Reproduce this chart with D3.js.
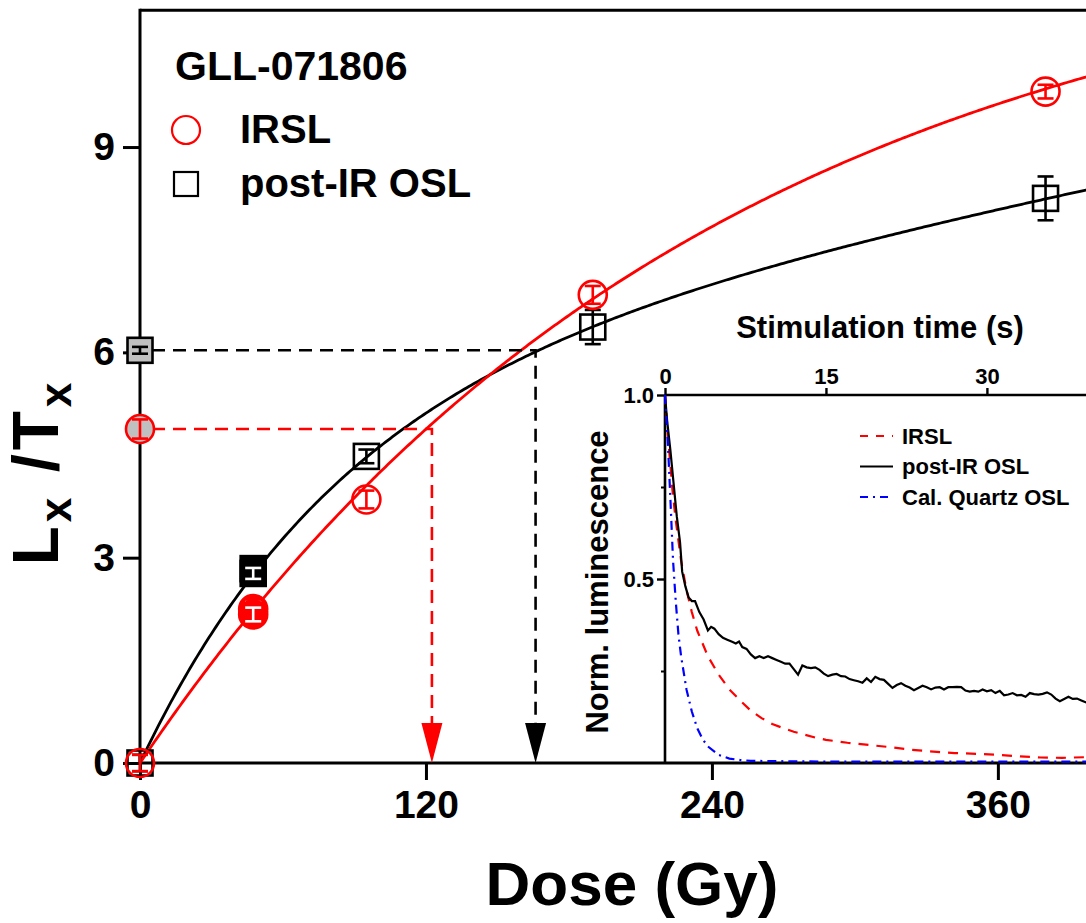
<!DOCTYPE html>
<html>
<head>
<meta charset="utf-8">
<script src="https://cdn.jsdelivr.net/npm/d3@7"></script>
<style>
  body { margin: 0; background: #fff; }
  text { font-family: "Liberation Sans", Arial, Helvetica, sans-serif; font-weight: bold; }
</style>
</head>
<body>
<script>
// dose response curves (main) + decay curves (inset)

var width = 1086, height = 923;

// main chart data
var irslDose = [0, 47.5, 47.5, 95, 190, 380];
var irslLxTx = [0, 2.25, 2.17, 3.85, 6.84, 9.81];
var irslErr  = [0.12, 0.1, 0.1, 0.13, 0.13, 0.1];
var irslFilled = [false, true, true, false, false, false];
var irslNatural = 4.88, irslNaturalErr = 0.14;
var irslDe = 122.5;
var irslFit = [12.39, 239.8];          // a, D0  : a(1-exp(-D/D0))

var oslDose = [0, 47.5, 47.5, 95, 190, 380];
var oslLxTx = [0, 2.84, 2.77, 4.48, 6.37, 8.25];
var oslErr  = [0.12, 0.08, 0.08, 0.1, 0.25, 0.32];
var oslFilled = [false, true, true, false, false, false];
var oslNatural = 6.03;
var oslDe = 166;
var oslFit = [5.65, 85, 0.00699];      // a, D0, b : a(1-exp(-D/D0)) + bD

var yTicks = [0, 3, 6, 9];
var xTicks = [0, 120, 240, 360];

// inset data
var irslTime = [0, 0.3, 0.7, 1, 1.5, 2, 2.5, 3, 4, 5, 6, 7, 8, 9, 10, 11, 12, 13, 14, 15, 17, 19, 21, 23, 25, 27, 29, 31, 33, 35, 37, 39.5];
var irslNorm = [1, 0.88, 0.74, 0.66, 0.55, 0.47, 0.41, 0.36, 0.29, 0.24, 0.2, 0.17, 0.142, 0.122, 0.106, 0.095, 0.085, 0.077, 0.069, 0.063, 0.055, 0.049, 0.043, 0.036, 0.031, 0.027, 0.025, 0.022, 0.018, 0.015, 0.014, 0.016];

var quartzTime = [0, 0.25, 0.5, 0.75, 1, 1.25, 1.5, 2, 2.5, 3, 3.5, 4, 5, 6, 7, 8, 10, 15, 20, 30, 40];
var quartzNorm = [1, 0.88, 0.72, 0.55, 0.44, 0.35, 0.29, 0.2, 0.14, 0.095, 0.065, 0.045, 0.022, 0.012, 0.008, 0.006, 0.005, 0.004, 0.004, 0.004, 0.004];

var postIrTime = [0, 0.2, 0.5, 0.8, 1.1, 1.4, 1.6, 1.9, 2.2, 2.5, 2.8, 3.2, 3.6, 4.0, 4.3, 4.6, 5.0, 5.4, 5.8, 6.2, 6.6, 6.9, 7.2, 7.6, 8.0, 8.4, 8.8, 9.2, 9.6, 10.0, 10.4, 10.8, 11.2, 11.6, 12.0, 12.4, 12.8, 13.2, 13.6, 14.0, 14.4, 14.8, 15.2, 15.6, 16.0, 16.4, 16.8, 17.2, 17.6, 18.0, 18.4, 18.8, 19.2, 19.6, 20.0, 20.4, 20.8, 21.2, 21.6, 22.0, 22.4, 22.8, 23.2, 23.6, 24.0, 24.4, 24.8, 25.2, 25.6, 26.0, 26.4, 26.8, 27.2, 27.6, 28.0, 28.4, 28.8, 29.2, 29.6, 30.0, 30.4, 30.8, 31.2, 31.6, 32.0, 32.4, 32.8, 33.2, 33.6, 34.0, 34.4, 34.8, 35.2, 35.6, 36.0, 36.4, 36.8, 37.2, 37.6, 38.0, 38.4, 38.8, 39.2, 39.6];
var postIrNorm = [1, 0.93, 0.85, 0.76, 0.67, 0.6, 0.52, 0.48, 0.45, 0.44, 0.44, 0.41, 0.39, 0.36, 0.37, 0.365, 0.35, 0.34, 0.335, 0.33, 0.325, 0.33, 0.315, 0.31, 0.295, 0.285, 0.29, 0.285, 0.29, 0.285, 0.28, 0.275, 0.27, 0.27, 0.255, 0.24, 0.265, 0.26, 0.258, 0.26, 0.253, 0.243, 0.236, 0.24, 0.242, 0.236, 0.235, 0.228, 0.225, 0.222, 0.218, 0.23, 0.22, 0.234, 0.228, 0.226, 0.215, 0.204, 0.212, 0.217, 0.21, 0.205, 0.198, 0.204, 0.21, 0.206, 0.2, 0.205, 0.206, 0.2, 0.206, 0.206, 0.207, 0.206, 0.197, 0.194, 0.196, 0.194, 0.2, 0.195, 0.198, 0.19, 0.196, 0.184, 0.186, 0.19, 0.184, 0.185, 0.18, 0.19, 0.187, 0.186, 0.188, 0.192, 0.186, 0.175, 0.168, 0.174, 0.18, 0.174, 0.175, 0.17, 0.165, 0.163];

var insetXTicks = [0, 15, 30];
var insetYMajor = [0.5, 1.0];
var insetYMinor = [0.25, 0.75];
var insetLegend = ["IRSL", "post-IR OSL", "Cal. Quartz OSL"];

var svg = d3.select("body").append("svg")
    .attr("width", width)
    .attr("height", height);

var x = d3.scaleLinear().domain([0, 400]).range([140, 140 + 400 * 2.383]);
var y = d3.scaleLinear().domain([0, 11]).range([763, 763 - 11 * 68.44]);

// frame
svg.append("line").attr("x1", x(0)).attr("x2", x(400)).attr("y1", y(11)).attr("y2", y(11))
   .attr("stroke", "#000").attr("stroke-width", 3);

var yAxis = svg.append("g")
    .attr("transform", "translate(" + x(0) + ",0)")
    .call(d3.axisLeft(y).tickValues(yTicks).tickSize(17).tickPadding(8).tickFormat(d3.format("d")));
var xAxis = svg.append("g")
    .attr("transform", "translate(0," + y(0) + ")")
    .call(d3.axisBottom(x).tickValues(xTicks).tickSize(17).tickPadding(10).tickFormat(d3.format("d")));
[yAxis, xAxis].forEach(function(a) {
  a.select(".domain").remove();
  a.selectAll(".tick line").attr("stroke-width", 3);
  a.selectAll(".tick text").attr("font-size", 39).attr("font-weight", "bold")
   .style("font-family", "'Liberation Sans', Arial, sans-serif");
});
svg.append("line").attr("x1", x(0)).attr("x2", x(0)).attr("y1", y(11) - 1.5).attr("y2", y(0) + 1.5)
   .attr("stroke", "#000").attr("stroke-width", 3);
svg.append("line").attr("x1", x(0)).attr("x2", x(400)).attr("y1", y(0)).attr("y2", y(0))
   .attr("stroke", "#000").attr("stroke-width", 3);

// axis titles
var ylab = svg.append("text")
    .attr("transform", "translate(58,472) rotate(-90)")
    .attr("text-anchor", "middle")
    .attr("font-size", 64)
    .attr("letter-spacing", 4);
ylab.append("tspan").text("L");
ylab.append("tspan").attr("font-size", 44).attr("dy", 13).text("x");
ylab.append("tspan").attr("dy", -13).text(" /T");
ylab.append("tspan").attr("font-size", 44).attr("dy", 13).text("x");

svg.append("text")
    .attr("x", 632).attr("y", 905)
    .attr("text-anchor", "middle")
    .attr("font-size", 62)
    .text("Dose (Gy)");

// fitted curves
var doses = d3.range(0, 400.5, 1);
function irslCurve(d) { return irslFit[0] * (1 - Math.exp(-d / irslFit[1])); }
function oslCurve(d) { return oslFit[0] * (1 - Math.exp(-d / oslFit[1])) + oslFit[2] * d; }

var fitLine = d3.line().x(function(d) { return x(d[0]); }).y(function(d) { return y(d[1]); });
svg.append("path")
    .attr("d", fitLine(doses.map(function(d) { return [d, oslCurve(d)]; })))
    .attr("fill", "none").attr("stroke", "#000").attr("stroke-width", 2.8);
svg.append("path")
    .attr("d", fitLine(doses.map(function(d) { return [d, irslCurve(d)]; })))
    .attr("fill", "none").attr("stroke", "red").attr("stroke-width", 2.8);

// De projections
function projection(natural, de, color) {
  svg.append("path")
     .attr("d", "M" + (x(0) + 12) + "," + y(natural) + "H" + x(de) + "V" + (y(0) - 40))
     .attr("fill", "none").attr("stroke", color).attr("stroke-width", 2.6)
     .attr("stroke-dasharray", "13,8");
  svg.append("path")
     .attr("d", "M" + (x(de) - 10.5) + "," + (y(0) - 40) + "L" + (x(de) + 10.5) + "," + (y(0) - 40) +
                "L" + x(de) + "," + y(0) + "Z")
     .attr("fill", color);
}
projection(oslNatural, oslDe, "#000");
projection(irslNatural, irslDe, "red");

// error bars + markers
function errBar(cx, val, err, color) {
  var g = svg.append("g").attr("stroke", color).attr("stroke-width", 2.6);
  g.append("line").attr("x1", cx).attr("x2", cx).attr("y1", y(val - err)).attr("y2", y(val + err));
  g.append("line").attr("x1", cx - 8).attr("x2", cx + 8).attr("y1", y(val - err)).attr("y2", y(val - err));
  g.append("line").attr("x1", cx - 8).attr("x2", cx + 8).attr("y1", y(val + err)).attr("y2", y(val + err));
}

oslDose.forEach(function(d, i) {
  svg.append("rect")
     .attr("x", x(d) - 12.5).attr("y", y(oslLxTx[i]) - 12.5)
     .attr("width", 25).attr("height", 25)
     .attr("fill", oslFilled[i] ? "#000" : "none")
     .attr("stroke", "#000").attr("stroke-width", 2.6);
  errBar(x(d), oslLxTx[i], oslErr[i], oslFilled[i] ? "#fff" : "#000");
});
svg.append("rect")
   .attr("x", x(0) - 12.5).attr("y", y(oslNatural) - 12.5)
   .attr("width", 25).attr("height", 25)
   .attr("fill", "#c0c0c0").attr("stroke", "#000").attr("stroke-width", 2.6);
errBar(x(0), oslNatural, 0.05, "#000");

irslDose.forEach(function(d, i) {
  svg.append("circle")
     .attr("cx", x(d)).attr("cy", y(irslLxTx[i])).attr("r", 14)
     .attr("fill", irslFilled[i] ? "red" : "none")
     .attr("stroke", "red").attr("stroke-width", 2.6);
  errBar(x(d), irslLxTx[i], irslErr[i], irslFilled[i] ? "#fff" : "red");
});
svg.append("circle")
   .attr("cx", x(0)).attr("cy", y(irslNatural)).attr("r", 14)
   .attr("fill", "#c0c0c0").attr("stroke", "red").attr("stroke-width", 2.6);
errBar(x(0), irslNatural, irslNaturalErr, "red");

// legend
svg.append("text").attr("x", 175).attr("y", 80).attr("font-size", 41).text("GLL-071806");
svg.append("circle").attr("cx", 186).attr("cy", 130).attr("r", 14)
   .attr("fill", "none").attr("stroke", "red").attr("stroke-width", 2.2);
svg.append("text").attr("x", 240).attr("y", 143).attr("font-size", 40).text("IRSL");
svg.append("rect").attr("x", 174).attr("y", 172).attr("width", 24).attr("height", 24)
   .attr("fill", "none").attr("stroke", "#000").attr("stroke-width", 2.2);
svg.append("text").attr("x", 240).attr("y", 197).attr("font-size", 40).text("post-IR OSL");

// ---------- inset ----------
var ix = d3.scaleLinear().domain([0, 40]).range([665, 665 + 40 * 10.73]);
var iy = d3.scaleLinear().domain([0, 1]).range([763, 395]);

var inset = svg.append("g");
inset.append("line").attr("x1", ix(0)).attr("x2", ix(40)).attr("y1", iy(1)).attr("y2", iy(1))
     .attr("stroke", "#000").attr("stroke-width", 2.6);
inset.append("line").attr("x1", ix(0)).attr("x2", ix(0)).attr("y1", iy(1)).attr("y2", iy(0))
     .attr("stroke", "#000").attr("stroke-width", 2.6);

var itop = inset.append("g")
    .attr("transform", "translate(0," + iy(1) + ")")
    .call(d3.axisTop(ix).tickValues(insetXTicks).tickSize(7).tickPadding(4).tickFormat(d3.format("d")));
var ileft = inset.append("g")
    .attr("transform", "translate(" + ix(0) + ",0)")
    .call(d3.axisLeft(iy).tickValues(insetYMajor).tickSize(8).tickPadding(3).tickFormat(d3.format(".1f")));
inset.append("g")
    .attr("transform", "translate(" + ix(0) + ",0)")
    .call(d3.axisLeft(iy).tickValues(insetYMinor).tickSize(4).tickFormat(""))
    .call(function(g) { g.select(".domain").remove(); g.selectAll("line").attr("stroke-width", 2); });
[itop, ileft].forEach(function(a) {
  a.select(".domain").remove();
  a.selectAll(".tick line").attr("stroke-width", 2.4);
  a.selectAll(".tick text").attr("font-size", 22).attr("font-weight", "bold")
   .style("font-family", "'Liberation Sans', Arial, sans-serif");
});

inset.append("text")
    .attr("x", 880).attr("y", 338)
    .attr("text-anchor", "middle")
    .attr("font-size", 31)
    .text("Stimulation time (s)");
inset.append("text")
    .attr("transform", "translate(608,582) rotate(-90)")
    .attr("text-anchor", "middle")
    .attr("font-size", 31)
    .text("Norm. luminescence");

var decay = d3.line().x(function(d) { return ix(d[0]); }).y(function(d) { return iy(d[1]); });
var series = [
  {t: irslTime, v: irslNorm, color: "red", dash: "10,8"},
  {t: postIrTime, v: postIrNorm, color: "#000", dash: null},
  {t: quartzTime, v: quartzNorm, color: "blue", dash: "9,5,2,5"}
];
series.forEach(function(s) {
  inset.append("path")
       .attr("d", decay(s.t.map(function(t, i) { return [t, s.v[i]]; })))
       .attr("fill", "none").attr("stroke", s.color).attr("stroke-width", 2.2)
       .attr("stroke-dasharray", s.dash);
});

insetLegend.forEach(function(name, i) {
  var ly = 436 + i * 30.5;
  inset.append("line").attr("x1", 860).attr("x2", 893).attr("y1", ly).attr("y2", ly)
       .attr("stroke", series[i].color).attr("stroke-width", 2.2)
       .attr("stroke-dasharray", i == 0 ? "8,8" : i == 2 ? "8,5,2,5" : null);
  inset.append("text").attr("x", 902).attr("y", ly + 7.5).attr("font-size", 22).text(name);
});
</script>
</body>
</html>
